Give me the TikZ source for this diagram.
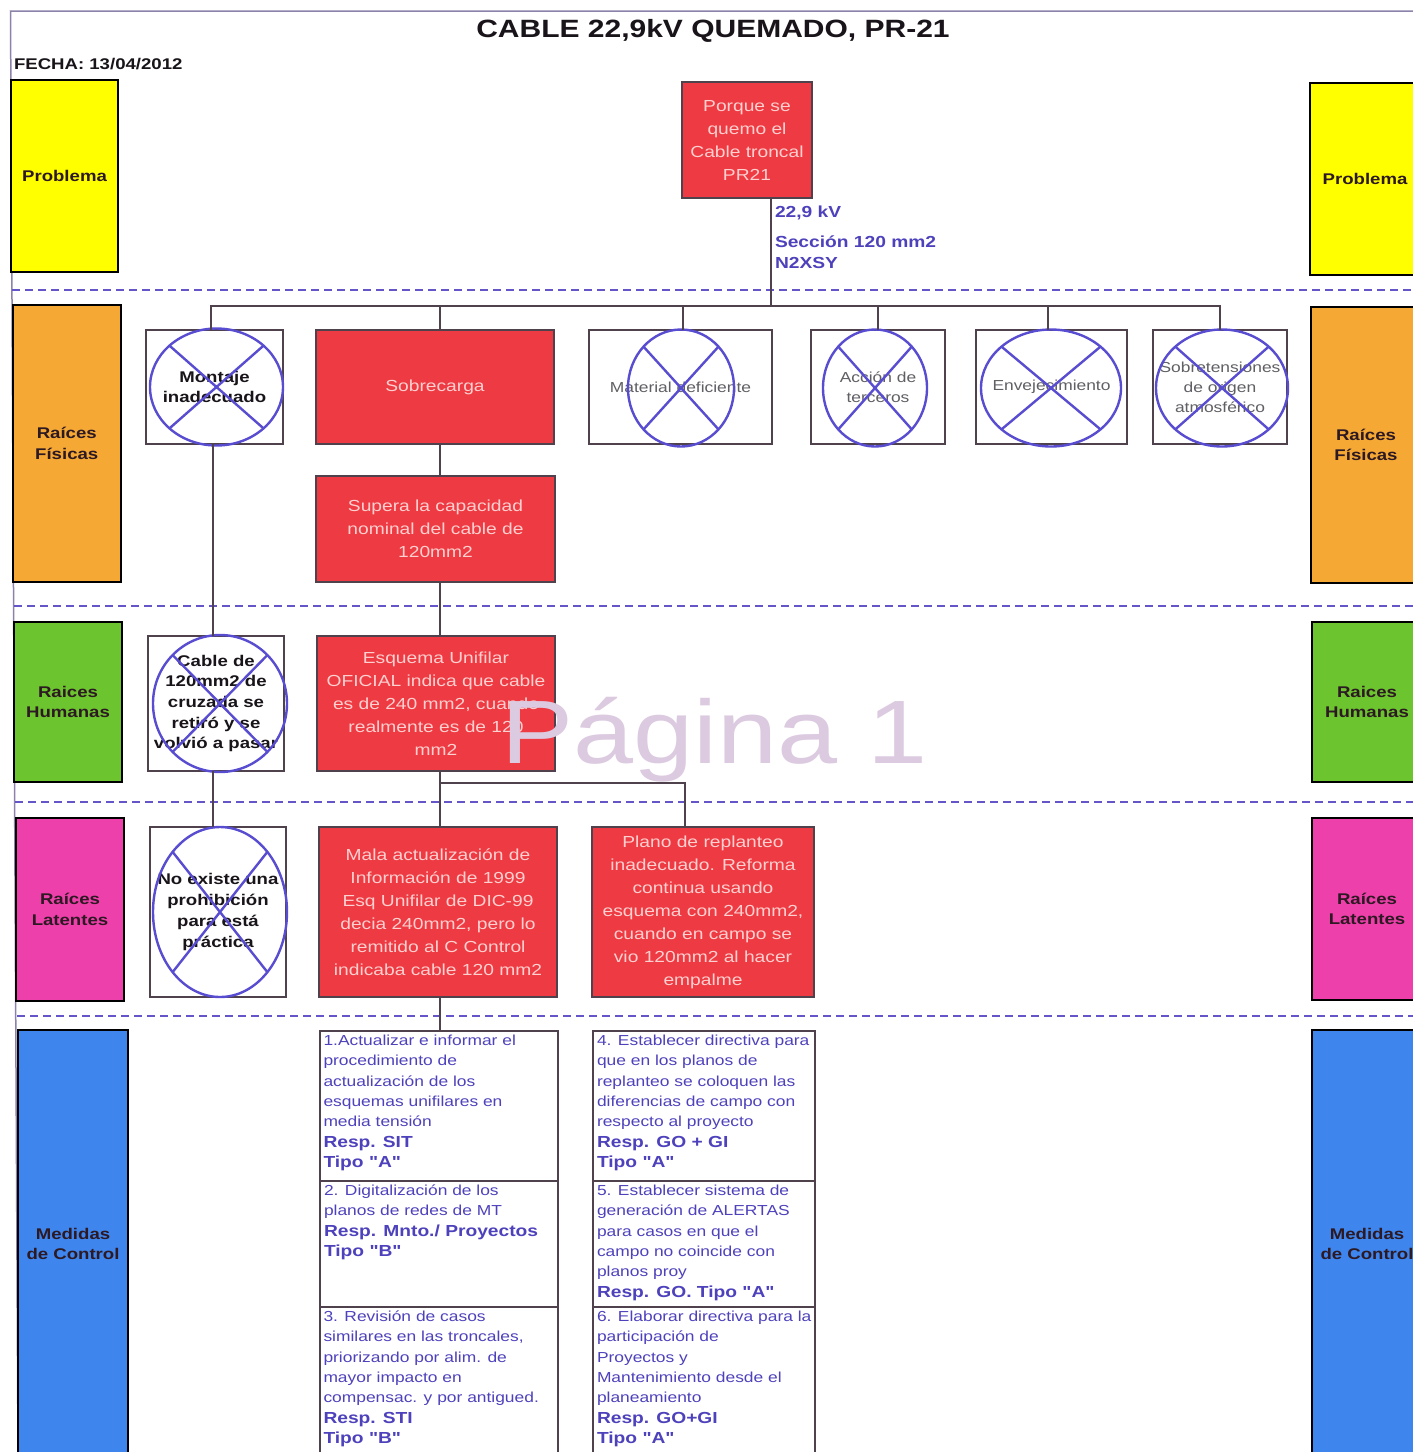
\documentclass[tikz,border=0pt]{standalone}
\usepackage{fontspec}
\setmainfont{Liberation Sans}[FakeStretch=1.2,Ligatures=TeXOff]
\usetikzlibrary{shapes.geometric,calc}

\definecolor{causered}{RGB}{238,58,66}
\definecolor{causetext}{RGB}{255,208,208}
\definecolor{probyellow}{RGB}{255,255,0}
\definecolor{fisorange}{RGB}{245,168,52}
\definecolor{humgreen}{RGB}{108,196,46}
\definecolor{latmagenta}{RGB}{238,64,170}
\definecolor{medblue}{RGB}{62,134,238}
\definecolor{lbltext}{RGB}{45,25,35}
\definecolor{treeline}{RGB}{80,66,76}
\definecolor{sepline}{RGB}{100,85,200}
\definecolor{xblue}{RGB}{88,76,208}
\definecolor{notetext}{RGB}{78,66,188}
\definecolor{greytext}{RGB}{95,95,100}
\definecolor{darktext}{RGB}{25,20,25}
\definecolor{pagemark}{RGB}{220,202,224}
\definecolor{frameline}{RGB}{140,130,170}

\newcommand\fTitle{\fontsize{25}{30}\selectfont\bfseries}
\newcommand\fLbl{\fontsize{15.5}{20.5}\selectfont\bfseries}
\newcommand\fRed{\fontsize{16}{23}\selectfont}
\newcommand\fGrey{\fontsize{14.5}{20}\selectfont}
\newcommand\fCross{\fontsize{15.5}{20.7}\selectfont\bfseries}
\newcommand\fNote{\fontsize{16}{20}\selectfont\bfseries}
\newcommand\fMeas{\fontsize{14.5}{20.3}\selectfont}
\newcommand\mb[1]{{\fontsize{16}{20.3}\selectfont\bfseries #1}}

% ellipse with a cross: name, centre x, centre y, width, height
\newcommand\crossout[5]{%
  \node[crossmark, minimum width=#4pt, minimum height=#5pt] (#1) at (#2,#3) {};
  \draw[xline] (#1.north west) -- (#1.south east) (#1.north east) -- (#1.south west);}

\begin{document}
\begin{tikzpicture}[x=1pt,y=-1pt,
  every node/.style={inner sep=0pt,outer sep=0pt},
  lblbox/.style={draw=black,line width=2pt,anchor=north west,align=center,font=\fLbl,text=lbltext},
  redcause/.style={draw=treeline,line width=1.2pt,fill=causered,anchor=north west,align=center,font=\fRed,text=causetext},
  xcause/.style={draw=treeline,line width=1.2pt,fill=white,anchor=north west,align=center},
  measbox/.style={draw=treeline,line width=1.2pt,anchor=north west},
  meastext/.style={anchor=north west,align=left,font=\fMeas,text=notetext},
  crossmark/.style={ellipse,draw=xblue,line width=2.4pt},
  xline/.style={draw=xblue,line width=2.4pt},
  tree/.style={draw=treeline,line width=1.5pt},
  sep/.style={draw=sepline,line width=1.6pt,dash pattern=on 8pt off 5pt},
]
\useasboundingbox (0,0) rectangle (1413,1452);
\clip (0,0) rectangle (1413,1452);
\fill[white] (0,0) rectangle (1413,1452);

% page frame
\draw[frameline,line width=1.5pt] (1413,11) -- (10.5,11) -- (18,1452);

% band separators
\foreach \x/\y in {12/290,14/606,15/802,17/1016}
  \draw[sep] (\x,\y) -- (1413,\y);

% heading
\node[font=\fTitle,text=darktext,anchor=base] (title) at (713,37) {CABLE 22,9kV QUEMADO, PR-21};
\node[font=\fLbl,text=darktext,anchor=base west] (fecha) at (14,69) {FECHA: 13/04/2012};

% band labels, left
\node[lblbox,fill=probyellow,minimum width=107pt,minimum height=192pt] (probL) at (11,80) {Problema};
\node[lblbox,fill=fisorange,minimum width=108.5pt,minimum height=277pt] (fisL) at (12.5,305) {Raíces\\Físicas};
\node[lblbox,fill=humgreen,minimum width=108pt,minimum height=160pt] (humL) at (14,622) {Raices\\Humanas};
\node[lblbox,fill=latmagenta,minimum width=108pt,minimum height=183pt] (latL) at (16,818) {Raíces\\Latentes};
\node[lblbox,fill=medblue,minimum width=110pt,minimum height=428pt] (medL) at (18,1030) {Medidas\\de Control};

% band labels, right
\node[lblbox,fill=probyellow,minimum width=110pt,minimum height=192pt] (probR) at (1310,83) {Problema};
\node[lblbox,fill=fisorange,minimum width=110pt,minimum height=276pt] (fisR) at (1311,307) {Raíces\\Físicas};
\node[lblbox,fill=humgreen,minimum width=110pt,minimum height=160pt] (humR) at (1312,622) {Raices\\Humanas};
\node[lblbox,fill=latmagenta,minimum width=110pt,minimum height=182pt] (latR) at (1312,818) {Raíces\\Latentes};
\node[lblbox,fill=medblue,minimum width=110pt,minimum height=428pt] (medR) at (1312,1030) {Medidas\\de Control};

% problem
\node[redcause,minimum width=130pt,minimum height=116pt] (porque) at (682,82) {Porque se\\quemo el\\Cable troncal\\PR21};
\node[font=\fNote,text=notetext,anchor=base west] (kv) at (775,217) {22,9 kV};
\node[font=\fNote,text=notetext,anchor=base west] (seccion) at (775,247) {Sección 120 mm2};
\node[font=\fNote,text=notetext,anchor=base west] (tipo) at (775,268) {N2XSY};

% physical roots
\node[xcause,minimum width=137pt,minimum height=114pt,font=\fCross,text=darktext] (montaje) at (146,330) {Montaje\\inadecuado};
\node[redcause,minimum width=238pt,minimum height=114pt] (sobrec) at (316,330) {Sobrecarga};
\node[xcause,minimum width=183pt,minimum height=114pt,font=\fGrey,text=greytext] (material) at (589,330) {Material deficiente};
\node[xcause,minimum width=134pt,minimum height=114pt,font=\fGrey,text=greytext] (accion) at (811,330) {Acción de\\terceros};
\node[xcause,minimum width=151pt,minimum height=114pt,font=\fGrey,text=greytext] (envej) at (976,330) {Envejecimiento};
\node[xcause,minimum width=134pt,minimum height=114pt,font=\fGrey,text=greytext] (sobret) at (1153,330) {Sobretensiones\\de origen\\atmosférico};
\node[redcause,minimum width=239pt,minimum height=106pt] (supera) at (316,476) {Supera la capacidad\\nominal del cable de\\120mm2};

% human roots
\node[xcause,minimum width=136pt,minimum height=135pt,font=\fCross,text=darktext] (cable) at (148,636) {Cable de\\120mm2 de\\cruzada se\\retiró y se\\volvió a pasar};
\node[redcause,minimum width=238pt,minimum height=135pt] (esquema) at (317,636) {Esquema Unifilar\\OFICIAL indica que cable\\es de 240 mm2, cuando\\realmente es de 120\\mm2};

% latent roots
\node[xcause,minimum width=136pt,minimum height=170pt,font=\fCross,text=darktext] (noexiste) at (150,827) {No existe una\\prohibición\\para está\\práctica};
\node[redcause,minimum width=238pt,minimum height=170pt] (mala) at (319,827) {Mala actualización de\\Información de 1999\\Esq Unifilar de DIC-99\\decia 240mm2, pero lo\\remitido al C Control\\indicaba cable 120 mm2};
\node[redcause,minimum width=222pt,minimum height=170pt] (plano) at (592,827) {Plano de replanteo\\inadecuado. Reforma\\continua usando\\esquema con 240mm2,\\cuando en campo se\\vio 120mm2 al hacer\\empalme};

% discarded causes
\crossout{montajeX}{216.5}{387}{133}{117}
\crossout{materialX}{681}{388}{106}{117}
\crossout{accionX}{875}{388}{104}{117}
\crossout{envejX}{1051}{388}{140}{117}
\crossout{sobretX}{1222}{388}{132}{117}
\crossout{cableX}{220}{703.5}{134}{137}
\crossout{noexisteX}{220}{912}{134}{170}

% control measures
\node[measbox,minimum width=238pt,minimum height=150pt] (m1) at (320,1031) {};
\node[measbox,minimum width=238pt,minimum height=126pt] (m2) at (320,1181) {};
\node[measbox,minimum width=238pt,minimum height=160pt] (m3) at (320,1307) {};
\node[measbox,minimum width=222pt,minimum height=150pt] (m4) at (593,1031) {};
\node[measbox,minimum width=222pt,minimum height=126pt] (m5) at (593,1181) {};
\node[measbox,minimum width=222pt,minimum height=160pt] (m6) at (593,1307) {};

\node[meastext] (t1) at ($(m1.north west)+(3.5,4)$) {1.Actualizar e informar el\\procedimiento de\\actualización de los\\esquemas unifilares en\\media tensión\\\mb{Resp. SIT}\\\mb{Tipo "A"}};
\node[meastext] (t2) at ($(m2.north west)+(4,4)$) {2. Digitalización de los\\planos de redes de MT\\\mb{Resp. Mnto./ Proyectos}\\\mb{Tipo "B"}};
\node[meastext] (t3) at ($(m3.north west)+(3.5,4)$) {3. Revisión de casos\\similares en las troncales,\\priorizando por alim. de\\mayor impacto en\\compensac. y por antigued.\\\mb{Resp. STI}\\\mb{Tipo "B"}};
\node[meastext] (t4) at ($(m4.north west)+(4,4)$) {4. Establecer directiva para\\que en los planos de\\replanteo se coloquen las\\diferencias de campo con\\respecto al proyecto\\\mb{Resp. GO + GI}\\\mb{Tipo "A"}};
\node[meastext] (t5) at ($(m5.north west)+(4,4)$) {5. Establecer sistema de\\generación de ALERTAS\\para casos en que el\\campo no coincide con\\planos proy\\\mb{Resp. GO. Tipo "A"}};
\node[meastext] (t6) at ($(m6.north west)+(4,4)$) {6. Elaborar directiva para la\\participación de\\Proyectos y\\Mantenimiento desde el\\planeamiento\\\mb{Resp. GO+GI}\\\mb{Tipo "A"}};

% tree connectors
\coordinate (bus) at (771,306);
\coordinate (mstem) at (213,0);
\coordinate (stem) at (440,0);
\coordinate (pstem) at (685,783);

\draw[tree] (porque.south -| bus) -- (bus);
\draw[tree] ([xshift=-2pt]montaje.north -| mstem) |- (sobret.north |- bus) -- (sobret.north);
\draw[tree] (sobrec.north -| stem) -- (bus -| stem);
\draw[tree] ([xshift=2.5pt]material.north) -- ([xshift=2.5pt]material.north |- bus);
\draw[tree] (accion.north) -- (accion.north |- bus);
\draw[tree] ([xshift=-3.5pt]envej.north) -- ([xshift=-3.5pt]envej.north |- bus);

\draw[tree] (sobrec.south -| stem) -- (supera.north -| stem);
\draw[tree] (supera.south -| stem) -- (esquema.north -| stem);
\draw[tree] (esquema.south -| stem) -- (mala.north -| stem);
\draw[tree] (esquema.south -| stem) |- (pstem) -- (pstem |- plano.north);
\draw[tree] (mala.south -| stem) -- (m1.north -| stem);
\draw[tree] (montaje.south -| mstem) -- (cable.north -| mstem);
\draw[tree] (cable.south -| mstem) -- (noexiste.north -| mstem);

% page number mark
\node[text=pagemark,font=\fontsize{90}{90}\selectfont,anchor=base] (pagina) at (715,763) {Página 1};
\end{tikzpicture}
\end{document}
